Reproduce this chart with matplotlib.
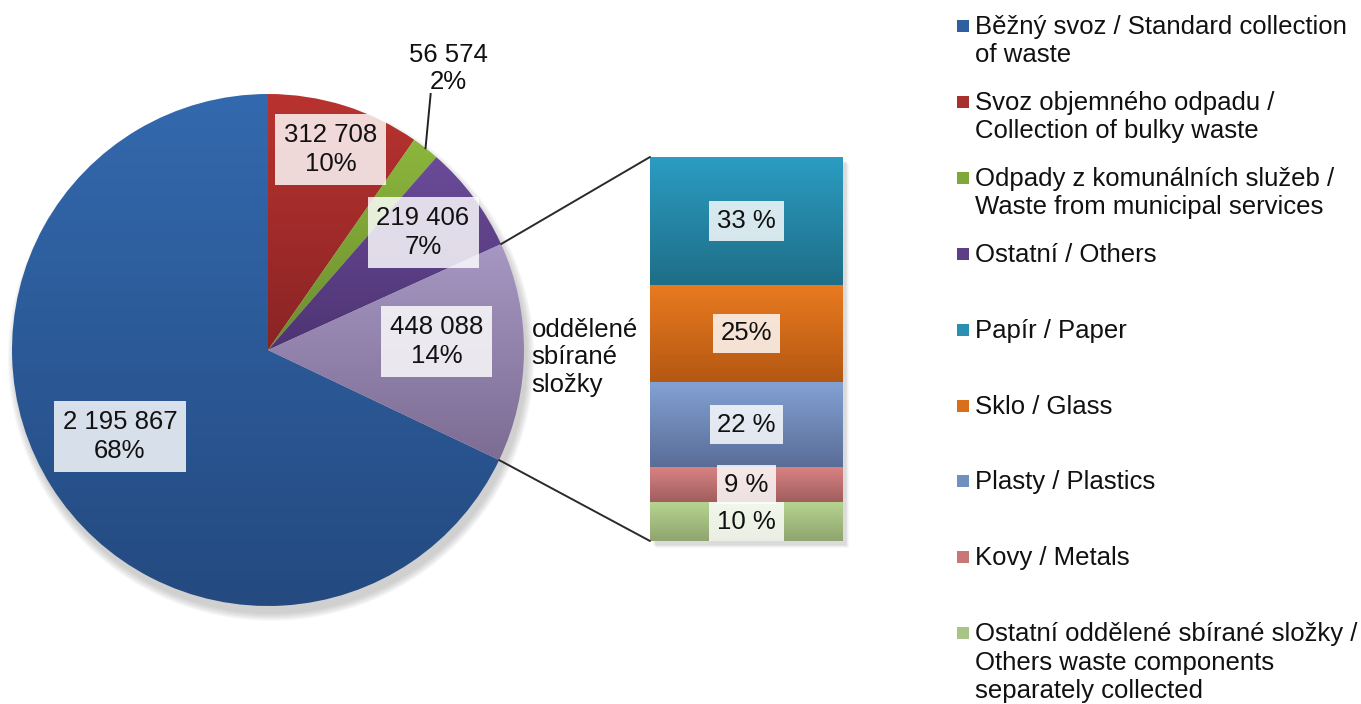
import numpy as np
import matplotlib
matplotlib.use("Agg")
import matplotlib.pyplot as plt
from matplotlib.colors import LinearSegmentedColormap
from matplotlib.patches import ConnectionPatch, Rectangle, Circle

plt.rcParams['font.family'] = ['Liberation Sans', 'DejaVu Sans']

# ---------------- data ----------------
pie_labels = ["Běžný svoz / Standard collection\nof waste",
              "Svoz objemného odpadu /\nCollection of bulky waste",
              "Odpady z komunálních služeb /\nWaste from municipal services",
              "Ostatní / Others"]
pie_values = [2195867, 312708, 56574, 219406, 448088]
pie_group_label = "oddělené\nsbírané\nsložky"

bar_labels = ["Papír / Paper", "Sklo / Glass", "Plasty / Plastics", "Kovy / Metals",
              "Ostatní oddělené sbírané složky /\nOthers waste components\nseparately collected"]
bar_values = [33, 25, 22, 9, 10]
bar_texts = ["33 %", "25%", "22 %", "9 %", "10 %"]

# ---------------- style ----------------
pie_top = ["#3369ae", "#b93330", "#8cb63d", "#6b4b99", "#a697c3"]
pie_bot = ["#244a80", "#8a2424", "#6c8e2e", "#4e3473", "#7d6d94"]
pie_leg = ["#2f5f9e", "#a8302d", "#7fa83a", "#5c3f87"]
bar_top = ["#2b9cc2", "#e97a20", "#83a2d4", "#d98282", "#b6d490"]
bar_bot = ["#1e6e87", "#b45812", "#5a6d97", "#a05e5e", "#8fa46f"]
bar_leg = ["#2a8fb0", "#d96f1b", "#7090c0", "#c87676", "#a8c585"]

W, H = 1361, 704
fig = plt.figure(figsize=(W / 100, H / 100), dpi=100)
FS = 18.5
LS = 1.25


def grad_fill(ax, patch, top, bottom):
    ext = patch.get_path().get_extents(patch.get_patch_transform())
    cmap = LinearSegmentedColormap.from_list("g", [top, bottom])
    grad = np.linspace(0, 1, 200).reshape(-1, 1)
    im = ax.imshow(grad, cmap=cmap, extent=[ext.x0, ext.x1, ext.y0, ext.y1],
                   origin="upper", aspect="auto", zorder=patch.get_zorder(),
                   interpolation="bilinear")
    im.set_clip_path(patch)
    patch.set_facecolor("none")


# ---------------- pie ----------------
cx, cy, r = 268, 350, 256
ax_pie = fig.add_axes([(cx - r) / W, (H - cy - r) / H, 2 * r / W, 2 * r / H])
total = sum(pie_values)
fracs = [v / total for v in pie_values]

# soft shadow
for i in range(8):
    ax_pie.add_patch(Circle((0.012, -0.03), 1.0 + 0.004 * i, color="#7f7f7f",
                            alpha=0.05, zorder=0, clip_on=False, lw=0))

wedges, _ = ax_pie.pie(pie_values, startangle=90 + 360 * fracs[0],
                       counterclock=False, radius=1.0,
                       wedgeprops=dict(linewidth=0))
for w, t, b in zip(wedges, pie_top, pie_bot):
    w.set_zorder(1)
    grad_fill(ax_pie, w, t, b)
ax_pie.set_xlim(-1, 1)
ax_pie.set_ylim(-1, 1)
ax_pie.set_aspect("equal")
ax_pie.axis("off")

# label placement (radius, angle offset in degrees) per slice
label_r = [0.67, 0.82, None, 0.76, 0.66]
label_da = [-2.0, 0.0, 0.0, 0.5, 3.5]
box = dict(boxstyle="square,pad=0.35", fc="white", ec="none", alpha=0.82)
for i, (w, v, f) in enumerate(zip(wedges, pie_values, fracs)):
    mid = np.deg2rad((w.theta1 + w.theta2) / 2)
    txt = f"{v:,}".replace(",", " ") + f"\n{round(f * 100)}%"
    if label_r[i] is None:
        x0, y0 = np.cos(mid), np.sin(mid)
        ax_pie.plot([x0, x0 + 0.02], [y0, 1.0], color="#222222", lw=1.4,
                    clip_on=False, zorder=3)
        ax_pie.text(x0 + 0.09, 1.0, txt, ha="center", va="bottom", fontsize=FS,
                    linespacing=LS - 0.07, color="#111111", zorder=4)
    else:
        a = mid + np.deg2rad(label_da[i])
        rr = label_r[i]
        ax_pie.text(rr * np.cos(a), rr * np.sin(a), txt, ha="center", va="center",
                    fontsize=FS, linespacing=LS, bbox=box, color="#111111", zorder=4)

sep = wedges[-1]
mid = np.deg2rad((sep.theta1 + sep.theta2) / 2)
ax_pie.text(1.03, 1.03 * np.sin(mid) - 0.02, pie_group_label, ha="left", va="center",
            fontsize=FS, linespacing=LS - 0.05, color="#111111", clip_on=False)

# ---------------- bar ----------------
bx0, by0, bw, bh = 650, 157, 193, 384
ax_bar = fig.add_axes([bx0 / W, (H - by0 - bh) / H, bw / W, bh / H])
for i in range(5):
    ax_bar.add_patch(Rectangle((0.015 + 0.004 * i, -0.01 - 0.002 * i), 1, 1,
                               transform=ax_bar.transAxes, color="#7f7f7f",
                               alpha=0.06, zorder=0, clip_on=False, lw=0))
bottom = 0
for i in list(range(len(bar_values)))[::-1]:
    b = ax_bar.bar(0, bar_values[i], bottom=bottom, width=1.0, zorder=1, lw=0)[0]
    grad_fill(ax_bar, b, bar_top[i], bar_bot[i])
    ax_bar.text(0, bottom + bar_values[i] / 2, bar_texts[i], ha="center", va="center",
                fontsize=FS, color="#111111", zorder=4,
                bbox=dict(boxstyle="square,pad=0.3", fc="white", ec="none", alpha=0.82))
    bottom += bar_values[i]
ax_bar.set_xlim(-0.5, 0.5)
ax_bar.set_ylim(0, bottom)
ax_bar.axis("off")

# connector lines
for ang, yb in ((max(sep.theta1, sep.theta2), 1), (min(sep.theta1, sep.theta2), 0)):
    a = np.deg2rad(ang)
    con = ConnectionPatch(xyA=(np.cos(a), np.sin(a)), coordsA=ax_pie.transData,
                          xyB=(0, yb), coordsB=ax_bar.transAxes,
                          color="#2a2a2a", lw=1.4)
    fig.add_artist(con)

# ---------------- legend ----------------
leg_labels = pie_labels + bar_labels
leg_colors = pie_leg + bar_leg
y_first, step, line_h = 25, 75.9, 28.5
for i, (lab, col) in enumerate(zip(leg_labels, leg_colors)):
    yc = y_first + i * step
    fig.patches.append(Rectangle((957 / W, (H - yc - 7) / H), 12 / W, 12 / H,
                                 transform=fig.transFigure, fc=col, ec="none"))
    for k, line in enumerate(lab.split("\n")):
        fig.text(975 / W, (H - (yc + 9 + k * line_h)) / H, line, ha="left",
                 va="baseline", fontsize=FS, color="#111111")

fig.savefig("out.png", dpi=100)
